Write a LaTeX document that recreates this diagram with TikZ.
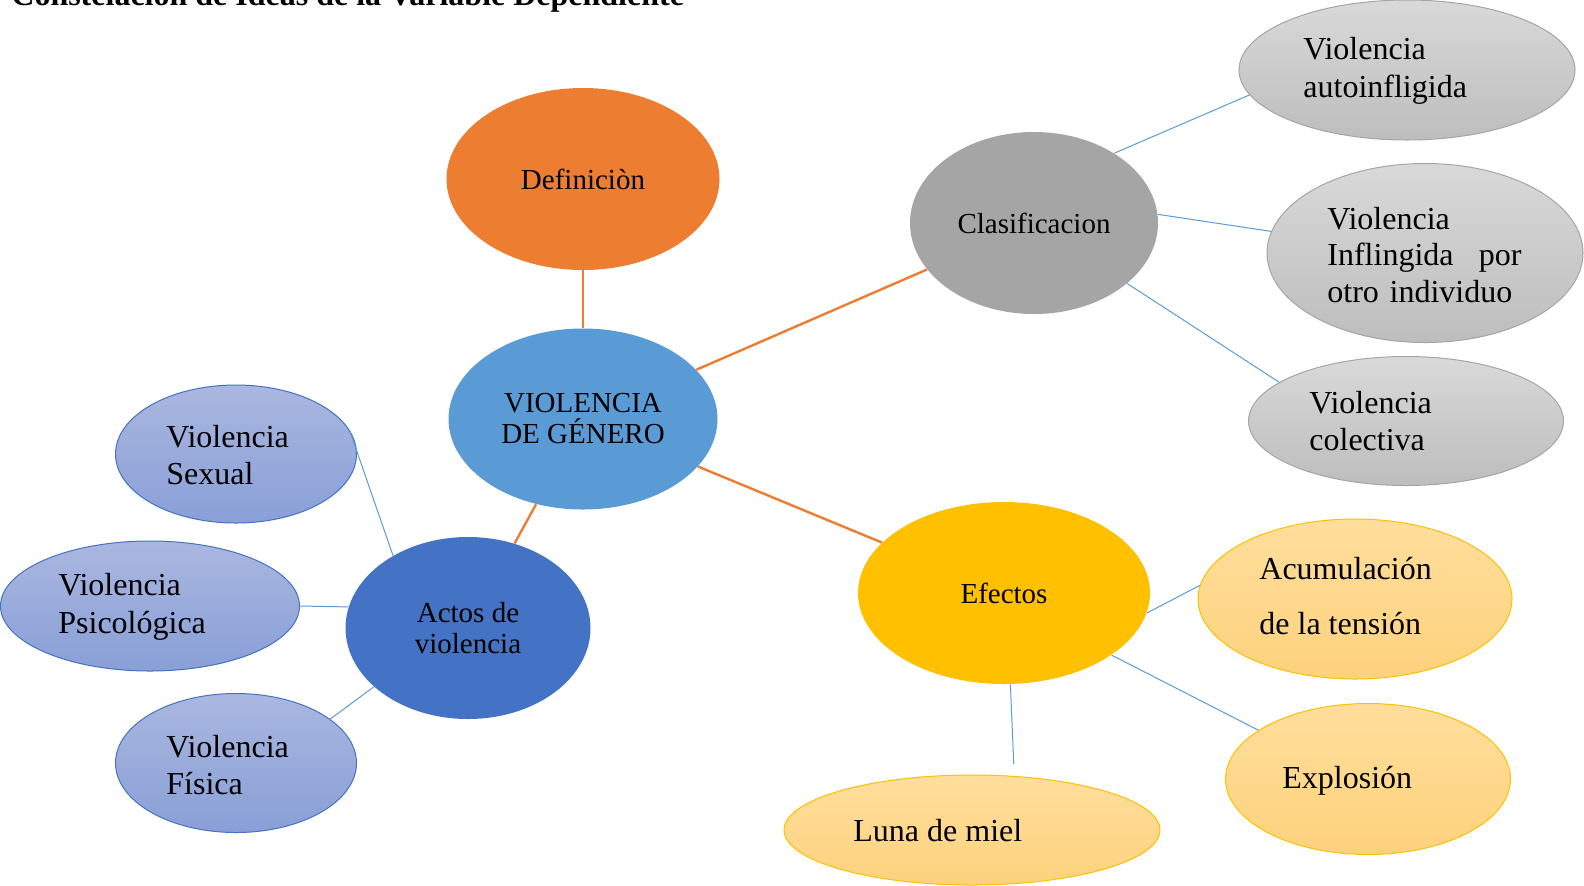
\documentclass[tikz,border=0pt]{standalone}
\usepackage{fontspec}
\setmainfont{Liberation Serif}
\usetikzlibrary{shapes.geometric}

\definecolor{defcol}{HTML}{ED7D31}
\definecolor{centcol}{HTML}{5B9BD5}
\definecolor{clascol}{HTML}{A5A5A5}
\definecolor{actcol}{HTML}{4472C4}
\definecolor{efecol}{HTML}{FFC000}
\definecolor{greytop}{HTML}{D9D9D9}
\definecolor{greybot}{HTML}{BDBDBD}
\definecolor{bluetop}{HTML}{AAB7E0}
\definecolor{bluebot}{HTML}{899FD7}
\definecolor{yeltop}{HTML}{FFDE9C}
\definecolor{yelbot}{HTML}{FDD27D}

\tikzset{
  hub/.style={ellipse, inner sep=0pt, align=center, font=\fontsize{14.5}{15.5}\selectfont},
  greyleaf/.style={ellipse, inner sep=0pt, draw=clascol, line width=0.5pt, top color=greytop, bottom color=greybot},
  blueleaf/.style={ellipse, inner sep=0pt, draw=actcol, line width=0.5pt, top color=bluetop, bottom color=bluebot},
  yelleaf/.style={ellipse, inner sep=0pt, draw=efecol, line width=0.5pt, top color=yeltop, bottom color=yelbot},
  leaftext/.style={anchor=west, align=left, inner sep=0pt, font=\fontsize{16}{18.7}\selectfont},
  mainline/.style={defcol, line width=1.2pt},
  subline/.style={centcol, line width=0.5pt}
}

\begin{document}
\begin{tikzpicture}[x=0.5pt,y=-0.5pt]
  \useasboundingbox (0,0) rectangle (1584,885);
  % title, cut by the top edge
  \node[anchor=base west, inner sep=0pt, font=\bfseries\fontsize{16}{19}\selectfont] (title) at (11,5) {Constelación de Ideas de la Variable Dependiente};

  % central ideas
  \node[hub, fill=defcol, minimum width=136.5pt, minimum height=91pt] (def) at (583,179) {Definiciòn};
  \node[hub, fill=centcol, minimum width=134.5pt, minimum height=90.5pt] (vg) at (583,419) {VIOLENCIA\\DE GÉNERO};
  \node[hub, fill=clascol, minimum width=124pt, minimum height=91pt] (clas) at (1034,223) {Clasificacion};
  \node[hub, fill=actcol, minimum width=122.5pt, minimum height=91pt] (actos) at (468,628) {Actos de\\violencia};
  \node[hub, fill=efecol, minimum width=146pt, minimum height=91pt] (efec) at (1004,593) {Efectos};

  % clasificacion
  \node[greyleaf, minimum width=168pt, minimum height=70pt] (auto) at (1407,70) {};
  \node[leaftext] (autotxt) at (1303,71) {Violencia\\autoinfligida};
  \node[greyleaf, minimum width=158pt, minimum height=89.5pt] (infl) at (1425,253) {};
  \node[leaftext, text width=97pt, font=\fontsize{16}{18.2}\selectfont] (infltxt) at (1327,255) {Violencia\\Inflingida\hfill por\\otro individuo};
  \node[greyleaf, minimum width=157.5pt, minimum height=64.5pt] (colec) at (1406,421) {};
  \node[leaftext] (colectxt) at (1309,421) {Violencia\\colectiva};

  % actos de violencia
  \node[blueleaf, minimum width=120.5pt, minimum height=69pt] (sexual) at (236,454) {};
  \node[leaftext] (sexualtxt) at (166,455) {Violencia\\Sexual};
  \node[blueleaf, minimum width=149.5pt, minimum height=65pt] (psico) at (150,606) {};
  \node[leaftext] (psicotxt) at (58,607) {Violencia\\Psicológica};
  \node[blueleaf, minimum width=120.5pt, minimum height=69.5pt] (fisica) at (236,763) {};
  \node[leaftext] (fisicatxt) at (166,765) {Violencia\\Física};

  % efectos
  \node[yelleaf, minimum width=157pt, minimum height=80pt] (acum) at (1355,599) {};
  \node[leaftext, font=\fontsize{16}{27.3}\selectfont] (acumtxt) at (1259,596) {Acumulación\\de la tensión};
  \node[yelleaf, minimum width=142.5pt, minimum height=75.5pt] (explo) at (1368,779) {};
  \node[leaftext] (explotxt) at (1282,781) {Explosión};
  \node[yelleaf, minimum width=188pt, minimum height=55pt] (luna) at (972,830) {};
  \node[leaftext] (lunatxt) at (853,831) {Luna de miel};

  % connectors
  \draw[mainline] (def) -- (vg);
  \draw[mainline] (vg) -- (clas);
  \draw[mainline] (vg) -- (efec);
  \draw[mainline] (vg) -- (actos);
  \draw[subline] (clas.41) -- (auto.189);
  \draw[subline] (clas.4) -- (infl.172);
  \draw[subline] (clas.-33) -- (colec.163);
  \draw[subline] (actos.136) -- (sexual.12);
  \draw[subline] (actos.170) -- (psico.0);
  \draw[subline] (actos.212) -- (fisica.25);
  \draw[subline] (efec.-8) -- (acum.175);
  \draw[subline] (efec.-30) -- (explo.156);
  \draw[subline, shorten >=6pt] (efec.-86) -- (luna.52);
\end{tikzpicture}
\end{document}
